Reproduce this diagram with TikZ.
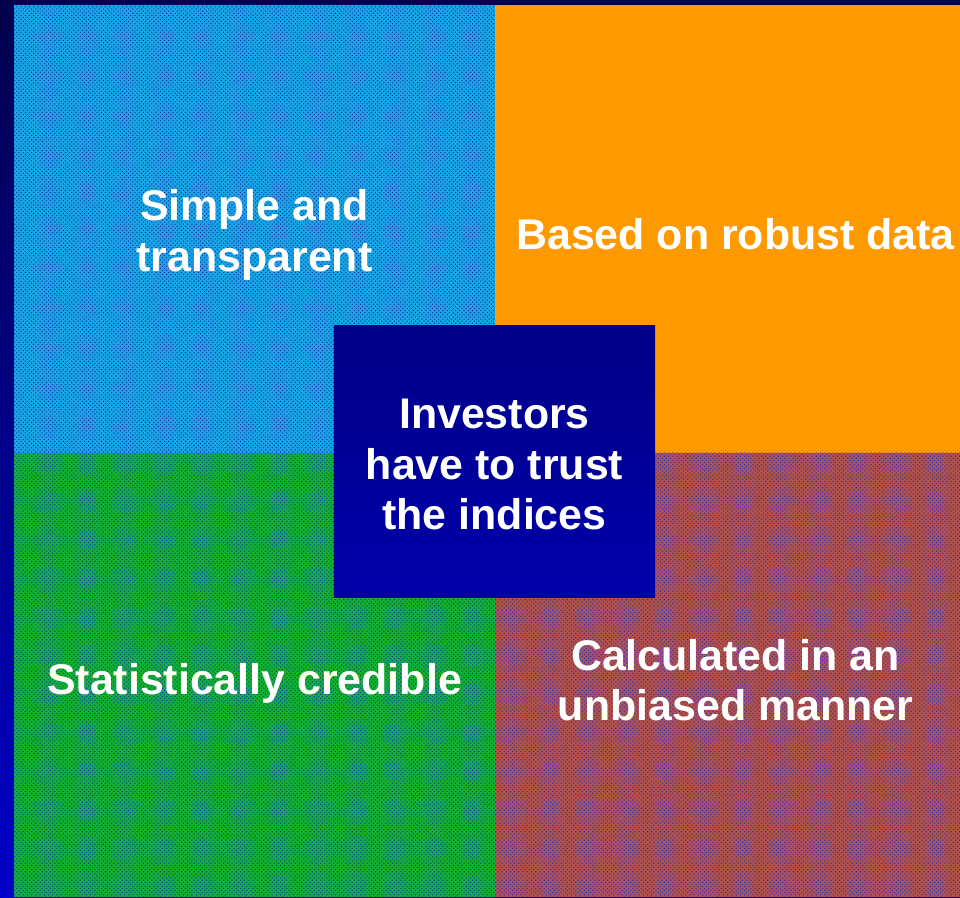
\documentclass[tikz,border=0pt]{standalone}
\usepackage{fontspec}
\setmainfont{Liberation Sans}
\usetikzlibrary{patterns,calc}

\definecolor{navytop}{HTML}{00004C}
\definecolor{navybot}{HTML}{0000C8}
\definecolor{skyfill}{HTML}{1AA6E4}
\definecolor{skydot}{HTML}{0A2CA8}
\definecolor{robust}{HTML}{FF9900}
\definecolor{leaffill}{HTML}{14B030}
\definecolor{leafdot}{HTML}{0838B0}
\definecolor{rustfill}{HTML}{B0524C}
\definecolor{rustdot}{HTML}{3028C0}
\definecolor{coretop}{HTML}{000088}
\definecolor{corebot}{HTML}{0000AA}

\tikzset{
  quad/.style={minimum width=12.025cm, minimum height=11.2cm, inner sep=0pt},
  wide/.style={quad, minimum width=11.625cm},
  lower/.style={minimum height=11.1cm},
  noisy/.style 2 args={fill=#1, postaction={pattern=crosshatch dots, pattern color=#2}},
  caption/.style={text=white, align=center, inner sep=0pt,
    font=\bfseries\fontsize{30.5}{36}\selectfont},
  core/.style={caption, minimum width=8.025cm, minimum height=6.775cm,
    top color=coretop, bottom color=corebot}
}

\begin{document}
\begin{tikzpicture}[x=0.025cm, y=-0.025cm]
% backdrop, darker at the top
\shade[top color=navytop, bottom color=navybot] (0,0) rectangle (960,897);
\useasboundingbox (0,0) rectangle (960,897);

% the four corners
\node[quad, noisy={skyfill}{skydot}] (simple) at (254.5,229) {};
\node[wide, fill=robust] (robust) at (727.5,229) {};
\node[quad, lower, noisy={leaffill}{leafdot}] (credible) at (254.5,675) {};
\node[wide, lower, noisy={rustfill}{rustdot}] (unbiased) at (727.5,675) {};

% their words
\node[caption] (simple-t) at ($(simple.center)+(0,6)$) {Simple and\\transparent};
\node[caption] (robust-t) at ($(robust.center)+(8,5)$) {Based on robust data};
\node[caption] (credible-t) at ($(credible.center)+(0,8)$) {Statistically credible};
\node[caption] (unbiased-t) at ($(unbiased.center)+(8,5)$) {Calculated in an\\unbiased manner};

% trust box in the middle
\node[core] (trust) at (494.5,461.5) {};
\node[caption] (trust-t) at ($(trust.center)+(0,3)$) {Investors\\have to trust\\the indices};
\end{tikzpicture}
\end{document}
